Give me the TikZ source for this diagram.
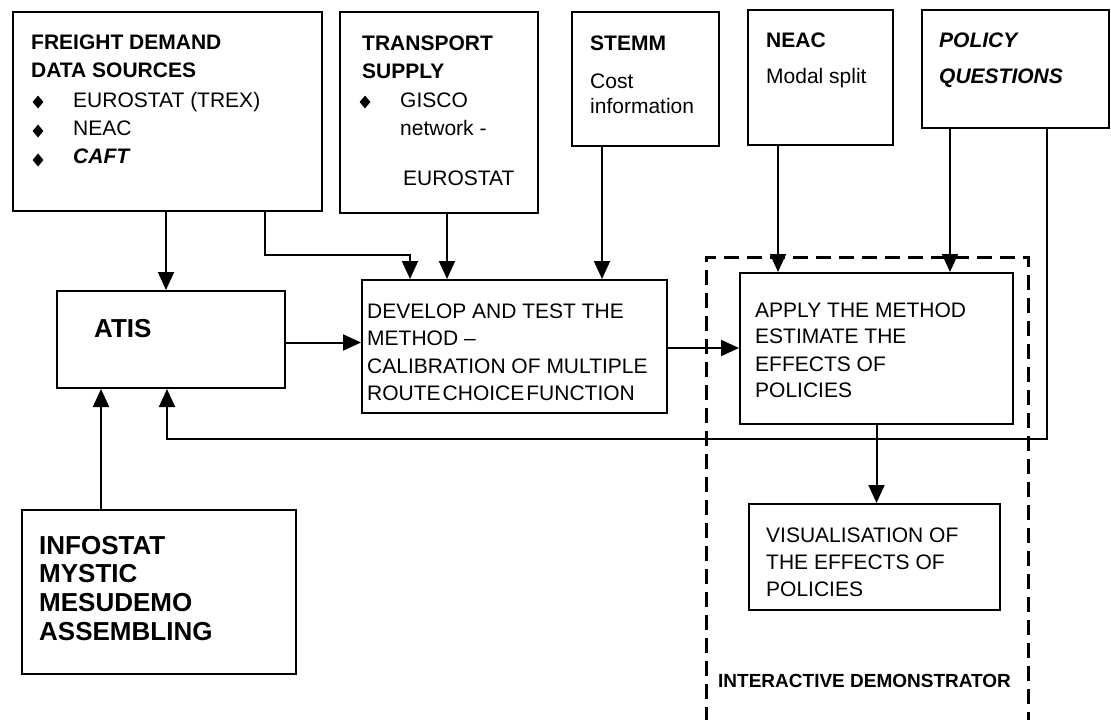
\documentclass[tikz,border=0pt]{standalone}
\usepackage{fontspec}
\setmainfont{Liberation Sans}
\usetikzlibrary{arrows.meta,shapes.geometric}
\begin{document}
\begin{tikzpicture}[x=1pt,y=-1pt,
  box/.style={draw, line width=2pt, inner sep=0pt, anchor=north west},
  conn/.style={line width=2pt},
  arr/.style={conn, -{Triangle[length=18pt,width=16pt]}},
  txt/.style={anchor=base west, inner sep=0pt, font=\fontsize{21}{25}\selectfont},
  hd/.style={txt, font=\fontsize{21}{25}\selectfont\bfseries},
  hdit/.style={txt, font=\fontsize{21}{25}\selectfont\bfseries\itshape},
  big/.style={txt, font=\fontsize{26}{30}\selectfont\bfseries},
  lbl/.style={txt, font=\fontsize{19}{23}\selectfont\bfseries},
  bul/.style={diamond, fill=black, inner sep=0pt, minimum width=11pt, minimum height=13pt},
  dashbox/.style={line width=3pt, dash pattern=on 15pt off 8pt},
]
\useasboundingbox (0,0) rectangle (1111,720);

% boxes
\node[box, minimum width=309pt, minimum height=199pt] (fd) at (12,11) {};
\node[box, minimum width=198pt, minimum height=201pt] (ts) at (339,11) {};
\node[box, minimum width=147pt, minimum height=134pt] (stemm) at (571,11) {};
\node[box, minimum width=145pt, minimum height=135pt] (neac) at (747,9) {};
\node[box, minimum width=187pt, minimum height=118pt] (pol) at (921,9) {};
\node[box, minimum width=228pt, minimum height=97pt] (atis) at (56,290) {};
\node[box, minimum width=305pt, minimum height=133pt] (dev) at (361,279) {};
\node[box, minimum width=273pt, minimum height=151pt] (app) at (739,272) {};
\node[box, minimum width=251pt, minimum height=106pt] (vis) at (748,503) {};
\node[box, minimum width=274pt, minimum height=164pt] (info) at (21,509) {};

% dashed frame
\draw[dashbox] (706,722) -- (706,257) -- (1028,257) -- (1028,722);

% texts
\node[hd] (fd1) at (31,49) {FREIGHT DEMAND};
\node[hd] (fd2) at (31,77) {DATA SOURCES};
\node[bul] (fdb1) at (38,102) {};
\node[txt] (fd3) at (73,107) {EUROSTAT (TREX)};
\node[bul] (fdb2) at (38,131) {};
\node[txt] (fd4) at (73,135) {NEAC};
\node[bul] (fdb3) at (38,160) {};
\node[hdit] (fd5) at (73,163) {CAFT};

\node[hd] (ts1) at (362,50) {TRANSPORT};
\node[hd] (ts2) at (362,78) {SUPPLY};
\node[bul] (tsb) at (365,102) {};
\node[txt] (ts3) at (400,107) {GISCO};
\node[txt] (ts4) at (400,135) {network -};
\node[txt] (ts5) at (403,185) {EUROSTAT};

\node[hd] (st1) at (590,50) {STEMM};
\node[txt] (st2) at (590,88) {Cost};
\node[txt] (st3) at (590,113) {information};

\node[hd] (ne1) at (766,47) {NEAC};
\node[txt] (ne2) at (766,83) {Modal split};

\node[hdit] (po1) at (939,47) {POLICY};
\node[hdit] (po2) at (939,83) {QUESTIONS};

\node[big] (at1) at (94,337) {ATIS};

\node[txt] (dv1) at (367,318) {DEVELOP AND TEST THE};
\node[txt] (dv2) at (367,345) {METHOD \textendash};
\node[txt] (dv3) at (367,373) {CALIBRATION OF MULTIPLE};
\node[txt] (dv4) at (367,400) {\spaceskip=2pt ROUTE CHOICE FUNCTION};

\node[txt] (ap1) at (755,317) {APPLY THE METHOD};
\node[txt] (ap2) at (755,343) {ESTIMATE THE};
\node[txt] (ap3) at (755,371) {EFFECTS OF};
\node[txt] (ap4) at (755,397) {POLICIES};

\node[txt] (vi1) at (766,542) {VISUALISATION OF};
\node[txt] (vi2) at (766,569) {THE EFFECTS OF};
\node[txt] (vi3) at (766,596) {POLICIES};

\node[big] (in1) at (39,554) {INFOSTAT};
\node[big] (in2) at (39,582) {MYSTIC};
\node[big] (in3) at (39,611) {MESUDEMO};
\node[big] (in4) at (39,640) {ASSEMBLING};

\node[lbl] (idm) at (718,687) {INTERACTIVE DEMONSTRATOR};

% connectors
\draw[arr] ([xshift=110pt]atis.north west |- fd.south) -- ([xshift=110pt]atis.north west);
\draw[arr] ([xshift=253pt]fd.south west) -- ++(0,43) -| ([xshift=49pt]dev.north west);
\draw[arr] ([xshift=108pt]ts.south west) -- ([xshift=108pt]ts.south west |- dev.north);
\draw[arr] ([xshift=31pt]stemm.south west) -- ([xshift=31pt]stemm.south west |- dev.north);
\draw[arr] ([yshift=-3pt]atis.east) -- ([yshift=-3pt]atis.east -| dev.west);
\draw[arr] ([yshift=-1.5pt]dev.east) -- ([yshift=-1.5pt]dev.east -| app.west);
\draw[arr] ([xshift=31pt]neac.south west) -- ([xshift=31pt]neac.south west |- app.north);
\draw[arr] ([xshift=29pt]pol.south west) -- ([xshift=29pt]pol.south west |- app.north);
\draw[arr] ([xshift=126pt]pol.south west) -- ++(0,310) -| ([xshift=111pt]atis.south west);
\draw[arr] ([xshift=80pt]info.north west) -- ([xshift=80pt]info.north west |- atis.south);
\draw[arr] (app.south) -- (app.south |- vis.north);
\end{tikzpicture}
\end{document}
